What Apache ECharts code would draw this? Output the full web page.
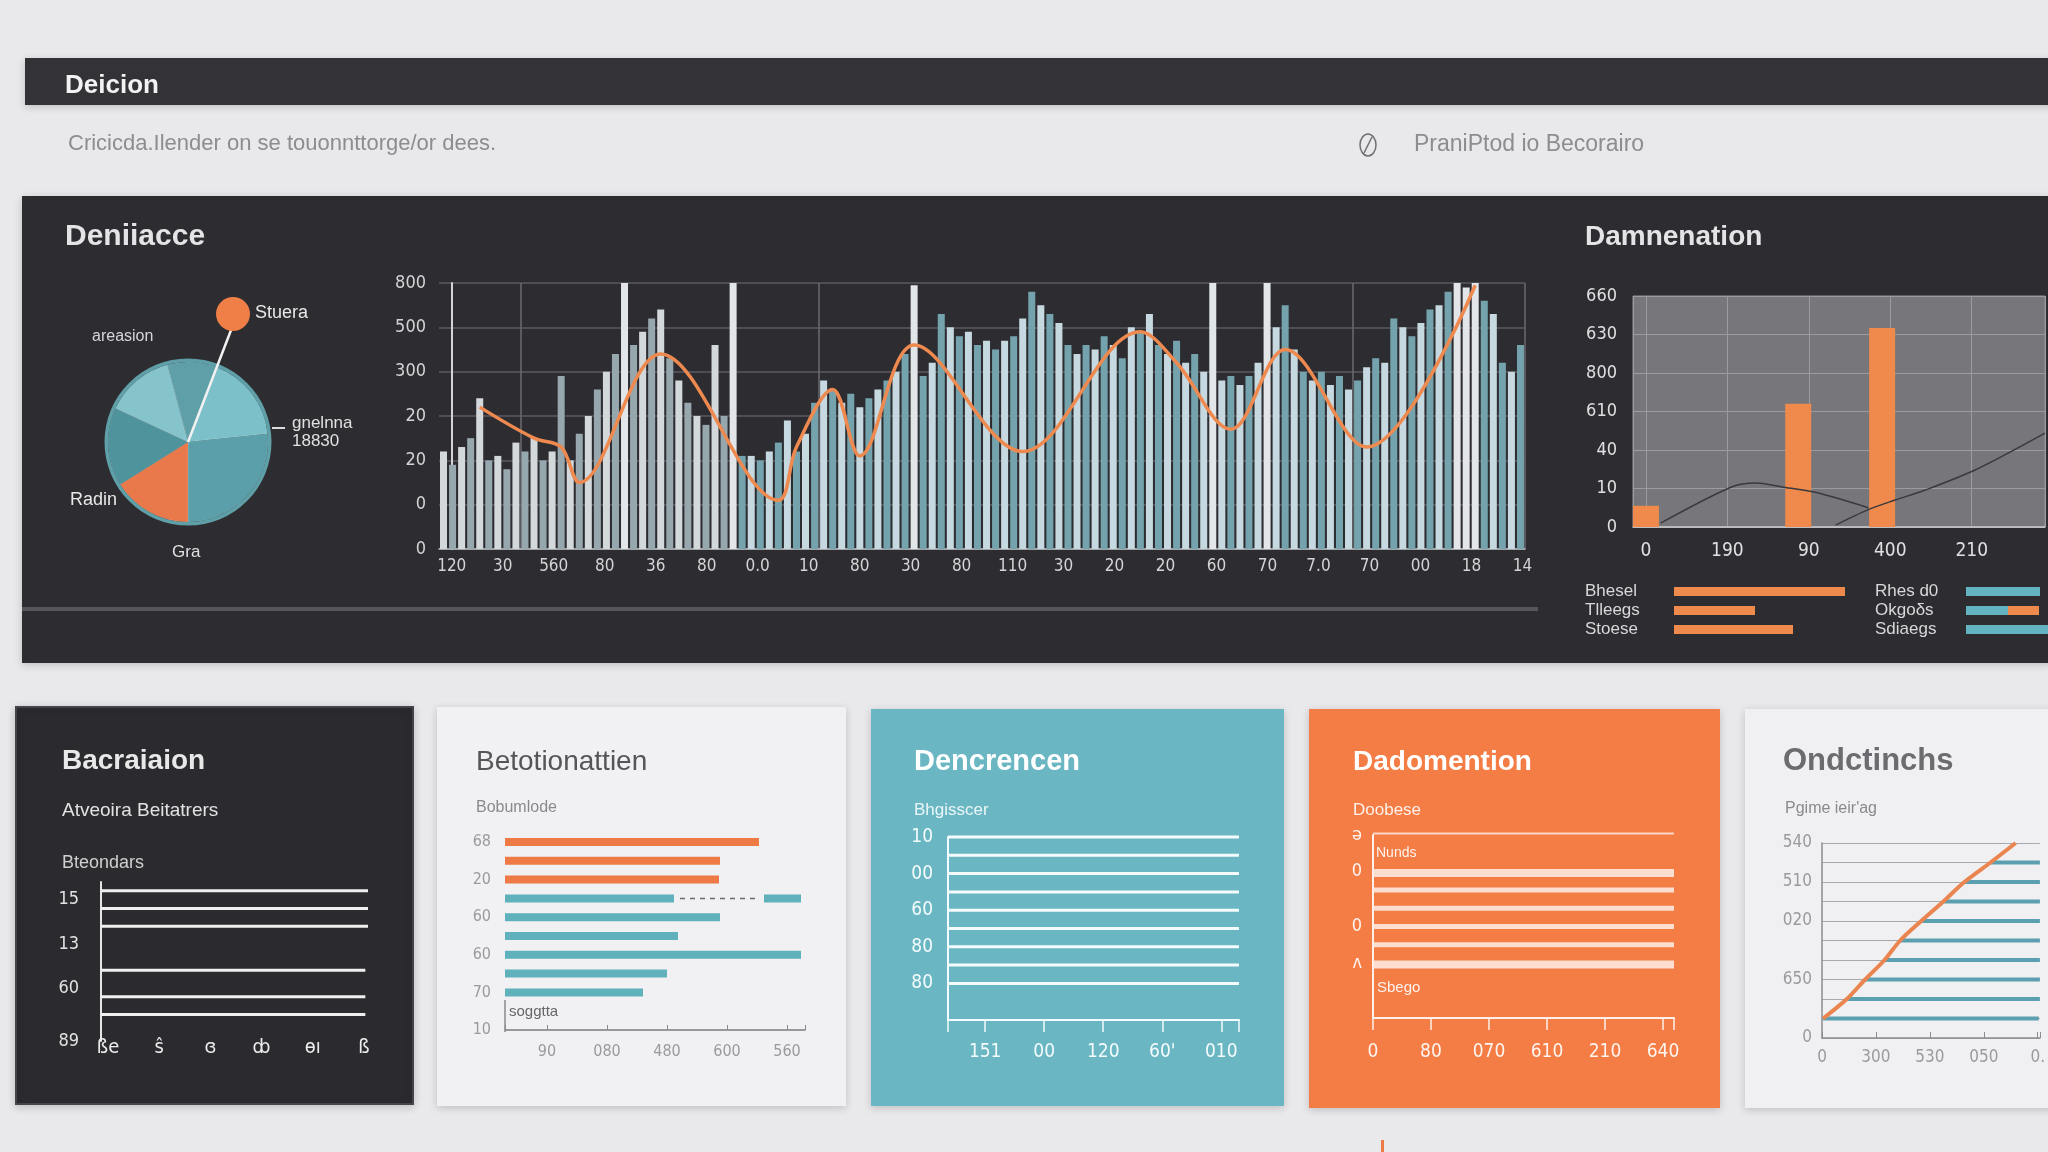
<!DOCTYPE html>
<html>
<head>
<meta charset="utf-8">
<title>Deicion</title>
<script src="https://cdn.jsdelivr.net/npm/echarts@6/dist/echarts.min.js"></script>
<style>
  html, body { margin: 0; padding: 0; background: #e9e9ec; }
  #chart { width: 2048px; height: 1152px; }
</style>
</head>
<body>
<div id="chart"></div>
<script>
// ---- main panel: bars + orange trend ----
const mainBars = [
  2.2, 1.9, 2.3, 2.5, 3.4, 2.0, 2.1, 1.8, 2.4, 2.2, 2.5, 2.0, 2.2, 3.9, 2.0, 2.6, 3.0, 3.6, 4.0, 4.4,
  6.0, 4.6, 4.9, 5.2, 5.4, 4.3, 3.8, 3.3, 3.0, 2.8, 4.6, 3.0, 6.0, 2.1, 2.1, 2.0, 2.2, 2.4, 2.9, 2.2,
  2.6, 3.3, 3.8, 3.6, 3.3, 3.5, 3.2, 3.4, 3.6, 3.8, 4.0, 4.4, 5.95, 3.9, 4.2, 5.3, 5.0, 4.8, 4.9, 4.6,
  4.7, 4.5, 4.7, 4.8, 5.2, 5.8, 5.5, 5.3, 5.1, 4.6, 4.4, 4.6, 4.5, 4.8, 4.6, 4.3, 5.0, 4.9, 5.3, 4.6,
  4.4, 4.7, 4.2, 4.4, 4.0, 6.0, 3.8, 3.9, 3.7, 3.9, 4.2, 6.0, 5.0, 5.5, 4.5, 4.0, 3.8, 4.0, 3.7, 3.9,
  3.6, 3.8, 4.1, 4.3, 4.2, 5.2, 5.0, 4.8, 5.1, 5.4, 5.5, 5.8, 6.0, 5.9, 6.0, 5.6, 5.3, 4.2, 4.0, 4.6
];
const mainTrend = [
  [4, 3.2], [10, 2.5], [13, 2.3], [15, 1.5], [24, 4.4], [37, 1.1], [39, 2.3], [43, 3.6], [46, 2.1],
  [52, 4.6], [64, 2.2], [77, 4.9], [81, 4.2], [87, 2.7], [93, 4.5], [102, 2.3], [114, 5.95]
];
const trendMarks = [4, 10, 13, 24, 39, 43, 52, 77, 81, 87, 114];
const mainYLabels = ['0', '0', '20', '20', '300', '500', '800'];
const mainXLabels = ['120', '30', '560', '80', '36', '80', '0.0', '10', '80', '30', '80', '110',
  '30', '20', '20', '60', '70', '7.0', '70', '00', '18', '14'];
const mainGridCols = [9, 42, 101];

// pie
const pieValues = [37, 62, 96, 58, 57, 50];
const pieColors = ['#5f9fa8', '#7cc1ca', '#5a9fa9', '#e9794a', '#4f939c', '#86c4cc'];

// right panel "Damnenation"
const rightYLabels = ['0', '10', '40', '610', '800', '630', '660'];
const rightXLabels = ['0', '190', '90', '400', '210'];
const rightBars = [[0, 0.55], [1.87, 3.2], [2.9, 5.17]];
const rightLineA = [[0.18, 0.1], [1.05, 1.04], [1.35, 1.14], [1.67, 1.04], [2.08, 0.9], [2.73, 0.5]];
const rightLineB = [[2.33, 0.05], [2.73, 0.45], [3.06, 0.7], [3.43, 0.96], [4.04, 1.48], [4.9, 2.44]];
const keyLeftNames = ['Bhesel', 'Tlleegs', 'Stoese'];
const keyLeftValues = [8.55, 4.05, 5.95];
const keyRightNames = ['Rhes d0', 'Okgoδs', 'Sdiaegs'];
const keyRightTeal = [3.7, 2.1, 4.1];
const keyRightOrange = [0, 1.55, 0];

// bottom panels
const p1Rows = ['', '', '15', '', '', '', '', '13', '', '', '', '', '60', '', '', '', '', '', '89'];
const p1Bars = [null, 1, null, 1, null, 1, null, null, null, null, 0.99, null, null, 0.99, null, 0.99, null, null, null];
const p1XLabels = ['ße', 'ŝ', 'ɞ', 'ȸ', 'ɵı', 'ß'];

const p2Rows = ['68', '', '20', '', '60', '', '60', '', '70', '', '10'];
const p2Bars = [254, 215, 214, 169, 215, 173, 296, 162, 138, null, null];
const p2Gap = [null, null, null, 90, null, null, null, null, null, null, null];
const p2Tail = [null, null, null, 37, null, null, null, null, null, null, null];
const p2Dash = [[175, 3], [251, 3]];
const p2XLabels = ['90', '080', '480', '600', '560'];

const p3Rows = ['10', '', '00', '', '60', '', '80', '', '80', '', ''];
const p3Bars = [1, 1, 1, 1, 1, 1, 1, 1, 1, null, null];
const p3XLabels = ['151', '00', '120', "60'", '010'];

const p4Rows = ['ə', '', '0', '', '', '0', '', 'ʌ', '', '', ''];
const p4Top = [5.19, null, null, null, null, null, null, null, null, null, null];
const p4Thick = [null, null, 5.19, null, null, null, null, 5.19, null, null, null];
const p4Thin = [null, null, null, 5.19, 5.19, 5.19, 5.19, null, null, null, null];
const p4XLabels = ['0', '80', '070', '610', '210', '640'];

const p5Rows = ['540', '', '510', '', '020', '', '', '650', '', '', '0'];
const p5Curve = [3.59, 3.125, 2.64, 2.25, 1.84, 1.45, 1.16, 0.80, 0.46, 0.02, null];
const p5Base = [null, 3.125, 2.64, 2.25, 1.84, 1.45, 1.16, 0.80, 0.46, 0.02, null];
const p5Teal = [null, 1.0, 1.4, 1.8, 2.2, 2.6, 2.9, 3.3, 3.6, 4.0, null];
const p5XLabels = ['0', '300', '530', '050', '0.'];

// ---- helpers ----
const LAB = '"DejaVu Sans Condensed", "Liberation Sans Narrow", "Liberation Sans", sans-serif';
const TITLE = '"Liberation Sans", Arial, sans-serif';
const pick = (labels) => (v) => (Number.isInteger(v) && labels[v] != null) ? labels[v] : '';

function valueAxis(grid, extra) {
  return Object.assign({
    type: 'value', gridIndex: grid,
    axisLine: { show: false }, axisTick: { show: false },
    axisLabel: { show: false }, splitLine: { show: false }
  }, extra);
}
function rowAxis(grid, rows, extra) {
  return Object.assign({
    type: 'category', gridIndex: grid, data: rows, inverse: true, boundaryGap: false,
    axisLine: { show: false }, axisTick: { show: false },
    axisLabel: { show: false }, splitLine: { show: false }
  }, extra);
}
function lbl(size, color, margin, extra) {
  return Object.assign({ show: true, fontSize: size, color: color, margin: margin, fontFamily: LAB }, extra);
}
function txt(x, y, text, size, color, weight) {
  return { type: 'text', x: x, y: y, z: 50,
    style: { text: text, fill: color, font: (weight || 'normal') + ' ' + size + 'px ' + TITLE,
      align: 'left', verticalAlign: 'middle' } };
}
function box(x, y, w, h, fill, extra) {
  return { type: 'rect', z: -10, shape: { x: x, y: y, width: w, height: h },
    style: Object.assign({ fill: fill, shadowBlur: 8, shadowColor: 'rgba(0,0,0,0.18)', shadowOffsetY: 2 }, extra) };
}

const myChart = echarts.init(document.querySelector('#chart'));

myChart.setOption({
  backgroundColor: '#e9e9ec',
  animation: false,
  graphic: { elements: [
    box(25, 58, 2030, 47, '#333237'),
    box(22, 196, 2030, 467, '#2d2c31'),
    { type: 'rect', z: -5, shape: { x: 22, y: 607, width: 1516, height: 4 }, style: { fill: '#56555a' } },
    box(16, 707, 397, 397, '#2b2a2f', { stroke: '#45444a', lineWidth: 2 }),
    box(437, 707, 409, 399, '#f1f1f3'),
    box(871, 709, 413, 397, '#6ab7c3'),
    box(1309, 709, 411, 399, '#f47c45'),
    box(1745, 709, 320, 399, '#f0f0f2'),
    { type: 'rect', z: -5, shape: { x: 1381, y: 1140, width: 3, height: 12 }, style: { fill: '#ee7a45' } },

    txt(65, 86, 'Deicion', 26, '#f2f2f2', 'bold'),
    txt(68, 144, 'Cricicda.Ilender on se touonnttorge/or dees.', 22, '#8c8c91'),
    { type: 'ellipse', z: 50, shape: { cx: 1368, cy: 145, rx: 8, ry: 11 }, style: { fill: 'none', stroke: '#707074', lineWidth: 1.5 } },
    { type: 'line', z: 50, shape: { x1: 1364, y1: 153, x2: 1372, y2: 137 }, style: { stroke: '#707074', lineWidth: 1.5 } },
    txt(1414, 145, 'PraniPtod io Becorairo', 23, '#8c8c91'),

    txt(65, 237, 'Deniiacce', 30, '#e4e4e6', 'bold'),
    txt(1585, 237, 'Damnenation', 28, '#e4e4e6', 'bold'),

    { type: 'line', z: 50, shape: { x1: 233, y1: 325, x2: 188, y2: 442 }, style: { stroke: '#f2f2f2', lineWidth: 2.5 } },
    { type: 'circle', z: 51, shape: { cx: 233, cy: 314, r: 17 }, style: { fill: '#ef7f47' } },
    txt(255, 313, 'Stuera', 18, '#e8e8e8'),
    txt(92, 337, 'areasion', 16, '#d6d6d8'),
    { type: 'line', z: 50, shape: { x1: 272, y1: 428, x2: 285, y2: 428 }, style: { stroke: '#dcdcdc', lineWidth: 2 } },
    txt(292, 423, 'gnelnna', 17, '#e0e0e0'),
    txt(292, 441, '18830', 17, '#e0e0e0'),
    txt(70, 500, 'Radin', 18, '#e8e8e8'),
    txt(172, 552, 'Gra', 17, '#e0e0e0'),

    txt(62, 761, 'Bacraiaion', 28, '#e8e8e8', 'bold'),
    txt(62, 811, 'Atveoira Beitatrers', 19, '#e2e2e2'),
    txt(62, 863, 'Bteondars', 18, '#cfcfcf'),

    txt(476, 762, 'Betotionattien', 28, '#55555a'),
    txt(476, 808, 'Bobumlode', 16, '#8a8a8e'),
    { type: 'line', z: 50, shape: { x1: 505, y1: 1000, x2: 505, y2: 1032 }, style: { stroke: '#8a8a8e', lineWidth: 1.5 } },
    txt(509, 1012, 'soggtta', 15, '#66666a'),

    txt(914, 762, 'Dencrencen', 29, '#ffffff', 'bold'),
    txt(914, 810, 'Bhgisscer', 17, '#eaf6f8'),

    txt(1353, 762, 'Dadomention', 28, '#ffffff', 'bold'),
    txt(1353, 810, 'Doobese', 17, '#fff1ea'),
    txt(1376, 853, 'Nunds', 14, '#fff3ee'),
    txt(1377, 988, 'Sbego', 15, '#fff3ee'),

    txt(1783, 761, 'Ondctinchs', 31, '#6b6b70', 'bold'),
    txt(1785, 809, "Pgime ieir'ag", 16, '#8a8a8e')
  ] },

  grid: [
    { left: 439, top: 283, width: 1086, height: 266 },
    { left: 1633, top: 296, width: 415, height: 231, show: true, backgroundColor: '#77767a', borderColor: '#929195', borderWidth: 1 },
    { left: 1674, top: 582, width: 200, height: 57 },
    { left: 1966, top: 582, width: 82, height: 57 },
    { left: 101, top: 882, width: 267, height: 159 },
    { left: 505, top: 842, width: 300, height: 188 },
    { left: 948, top: 837, width: 291, height: 183 },
    { left: 1373, top: 835, width: 301, height: 183 },
    { left: 1822, top: 843, width: 226, height: 195 }
  ],

  xAxis: [
    { type: 'category', gridIndex: 0, data: mainBars.map((v, i) => String(i)),
      axisLine: { lineStyle: { color: '#bfc3c5', width: 1.5 } }, axisTick: { show: false }, axisLabel: { show: false },
      splitLine: { show: true, interval: (i) => mainGridCols.includes(i), lineStyle: { color: '#6a6a70', width: 1.5 } } },
    valueAxis(0, { min: -0.25, max: 21.05, splitNumber: 21, position: 'bottom',
      axisLabel: lbl(17, '#d4d4d6', 9, { formatter: pick(mainXLabels) }) }),
    valueAxis(1, { min: -0.159, max: 4.9, position: 'bottom',
      axisLine: { show: true, lineStyle: { color: '#c9c9cb', width: 1.5 } },
      splitLine: { show: true, lineStyle: { color: '#9c9b9f', width: 1 } },
      axisLabel: lbl(19, '#e0e0e2', 15, { formatter: pick(rightXLabels) }) }),
    valueAxis(2, { min: 0, max: 10 }),
    valueAxis(3, { min: 0, max: 4.1 }),
    valueAxis(4, { min: 0, max: 1 }),
    valueAxis(4, { min: -0.137, max: 5.08, position: 'bottom',
      axisLabel: lbl(20, '#ececec', -3, { formatter: pick(p1XLabels) }) }),
    valueAxis(5, { min: 0, max: 300, axisLine: { show: true, lineStyle: { color: '#7c7c80', width: 1.5 } } }),
    valueAxis(5, { min: -0.7, max: 4.3, position: 'bottom',
      axisTick: { show: true, inside: true, length: 5, lineStyle: { color: '#8a8a8e' } },
      axisLabel: lbl(16, '#9a9a9e', 14, { formatter: pick(p2XLabels) }) }),
    valueAxis(6, { min: 0, max: 1, axisLine: { show: true, lineStyle: { color: '#f4fbfc', width: 2 } } }),
    valueAxis(6, { min: -0.63, max: 4.3, position: 'bottom',
      axisTick: { show: true, length: 12, lineStyle: { color: '#f4fbfc', width: 1.5 } },
      axisLabel: lbl(19, '#f4fbfc', 23, { formatter: pick(p3XLabels) }) }),
    valueAxis(7, { min: 0, max: 5.19, interval: 1,
      axisLine: { show: true, lineStyle: { color: '#fff1ea', width: 2 } },
      axisTick: { show: true, length: 12, lineStyle: { color: '#fff1ea', width: 1.5 } },
      axisLabel: lbl(19, '#fff4ee', 25, { formatter: pick(p4XLabels) }) }),
    valueAxis(8, { min: 0, max: 4.04, interval: 1,
      axisLine: { show: true, lineStyle: { color: '#8c8c90', width: 1.5 } },
      axisTick: { show: true, inside: true, length: 6, lineStyle: { color: '#8c8c90' } },
      axisLabel: lbl(17, '#9a9a9e', 11, { formatter: pick(p5XLabels) }) })
  ],

  yAxis: [
    valueAxis(0, { min: 0, max: 6, interval: 1,
      axisLine: { show: true, lineStyle: { color: '#d4d4d6', width: 2 } },
      splitLine: { show: true, lineStyle: { color: '#5a5a60', width: 1.5 } },
      axisLabel: lbl(18, '#d4d4d6', 13, { formatter: pick(mainYLabels) }) }),
    valueAxis(1, { min: 0, max: 6, interval: 1,
      splitLine: { show: true, lineStyle: { color: '#9c9b9f', width: 1 } },
      axisLabel: lbl(18, '#e0e0e2', 16, { formatter: pick(rightYLabels) }) }),
    rowAxis(2, keyLeftNames, { boundaryGap: true,
      axisLabel: lbl(17, '#d8d8da', 89, { align: 'left', interval: 0, fontFamily: TITLE }) }),
    rowAxis(3, keyRightNames, { boundaryGap: true,
      axisLabel: lbl(17, '#d8d8da', 91, { align: 'left', interval: 0, fontFamily: TITLE }) }),
    rowAxis(4, p1Rows, { axisLine: { show: true, lineStyle: { color: '#e6e6e6', width: 2 } },
      axisLabel: lbl(18, '#e2e2e2', 22, { interval: 0 }) }),
    rowAxis(5, p2Rows, { axisLabel: lbl(16, '#9a9a9e', 14, { interval: 0 }) }),
    rowAxis(6, p3Rows, { axisLine: { show: true, lineStyle: { color: '#f4fbfc', width: 2 } },
      axisLabel: lbl(19, '#f4fbfc', 15, { interval: 0, padding: [6, 0, 0, 0] }) }),
    rowAxis(7, p4Rows, { axisLine: { show: true, lineStyle: { color: '#fff1ea', width: 2 } },
      axisLabel: lbl(18, '#fff4ee', 11, { interval: 0 }) }),
    rowAxis(8, p5Rows, { axisLine: { show: true, lineStyle: { color: '#8c8c90', width: 1.5 } },
      splitLine: { show: true, interval: 0, lineStyle: { color: '#a9a9ad', width: 1 } },
      axisLabel: lbl(17, '#9a9a9e', 10, { interval: 0 }) })
  ],

  series: [
    { type: 'bar', xAxisIndex: 0, yAxisIndex: 0, data: mainBars, barWidth: 7,
      itemStyle: { color: (p) => {
        if (p.value >= 5.9) return '#e2e6e8';
        const pal = p.dataIndex < 33 ? ['#d3d8db', '#97a7ae'] : ['#c6d9e0', '#74a3ae'];
        return pal[p.dataIndex % 2];
      } } },
    { type: 'line', xAxisIndex: 0, yAxisIndex: 0, data: mainTrend, smooth: 0.35, z: 5,
      symbol: 'circle', symbolSize: (v) => trendMarks.includes(v[0]) ? 13 : 0,
      lineStyle: { color: '#ee8a4f', width: 3.5 }, itemStyle: { color: '#f08c50' } },

    { type: 'pie', center: [188, 442], radius: [0, 80], startAngle: 105, clockwise: true, silent: true,
      color: pieColors, label: { show: false }, labelLine: { show: false },
      itemStyle: { borderColor: 'rgba(255,255,255,0.12)', borderWidth: 1 },
      data: pieValues.map((v) => ({ value: v })) },
    { type: 'pie', center: [188, 442], radius: [80, 83.5], silent: true, color: ['#d4eaee'],
      label: { show: false }, labelLine: { show: false }, data: [{ value: 1 }] },

    { type: 'bar', xAxisIndex: 2, yAxisIndex: 1, data: rightBars, barWidth: 26, itemStyle: { color: '#ef8a4c' } },
    { type: 'line', xAxisIndex: 2, yAxisIndex: 1, data: rightLineA, smooth: 0.3, symbol: 'none', z: 4,
      lineStyle: { color: '#3a393e', width: 1.5 } },
    { type: 'line', xAxisIndex: 2, yAxisIndex: 1, data: rightLineB, smooth: 0.3, symbol: 'none', z: 4,
      lineStyle: { color: '#3a393e', width: 1.5 } },

    { type: 'bar', xAxisIndex: 3, yAxisIndex: 2, data: keyLeftValues, barWidth: 9, itemStyle: { color: '#ee8a4c' } },
    { type: 'bar', xAxisIndex: 4, yAxisIndex: 3, data: keyRightTeal, stack: 'key', barWidth: 9, itemStyle: { color: '#63b3c1' } },
    { type: 'bar', xAxisIndex: 4, yAxisIndex: 3, data: keyRightOrange, stack: 'key', barWidth: 9, itemStyle: { color: '#ee8a4c' } },

    { type: 'bar', xAxisIndex: 5, yAxisIndex: 4, data: p1Bars, barWidth: 3, clip: false, itemStyle: { color: '#efefef' } },

    { type: 'bar', xAxisIndex: 7, yAxisIndex: 5, data: p2Bars, stack: 'p2', barWidth: 8, clip: false,
      itemStyle: { color: (p) => p.dataIndex < 3 ? '#ee7b46' : '#5fb1bc' } },
    { type: 'bar', xAxisIndex: 7, yAxisIndex: 5, data: p2Gap, stack: 'p2', barWidth: 8, itemStyle: { color: 'rgba(0,0,0,0)' } },
    { type: 'bar', xAxisIndex: 7, yAxisIndex: 5, data: p2Tail, stack: 'p2', barWidth: 8, itemStyle: { color: '#5fb1bc' } },
    { type: 'line', xAxisIndex: 7, yAxisIndex: 5, data: p2Dash, symbol: 'none',
      lineStyle: { color: '#6c6c70', width: 1.5, type: [5, 5] } },

    { type: 'bar', xAxisIndex: 9, yAxisIndex: 6, data: p3Bars, barWidth: 3, clip: false, itemStyle: { color: '#f4fbfc' } },

    { type: 'bar', xAxisIndex: 11, yAxisIndex: 7, data: p4Top, barWidth: 2, barGap: '-100%', clip: false,
      itemStyle: { color: 'rgba(255,238,230,0.8)' } },
    { type: 'bar', xAxisIndex: 11, yAxisIndex: 7, data: p4Thick, barWidth: 8, barGap: '-100%',
      itemStyle: { color: 'rgba(255,236,228,0.88)' } },
    { type: 'bar', xAxisIndex: 11, yAxisIndex: 7, data: p4Thin, barWidth: 5, barGap: '-100%',
      itemStyle: { color: 'rgba(255,236,228,0.88)' } },

    { type: 'bar', xAxisIndex: 12, yAxisIndex: 8, data: p5Base, stack: 'p5', barWidth: 4, itemStyle: { color: 'rgba(0,0,0,0)' } },
    { type: 'bar', xAxisIndex: 12, yAxisIndex: 8, data: p5Teal, stack: 'p5', barWidth: 4, itemStyle: { color: '#5b9fb0' } },
    { type: 'line', xAxisIndex: 12, yAxisIndex: 8, data: p5Curve, smooth: 0.3, symbol: 'none', z: 5,
      lineStyle: { color: '#ea8550', width: 4 } }
  ]
});
</script>
</body>
</html>
